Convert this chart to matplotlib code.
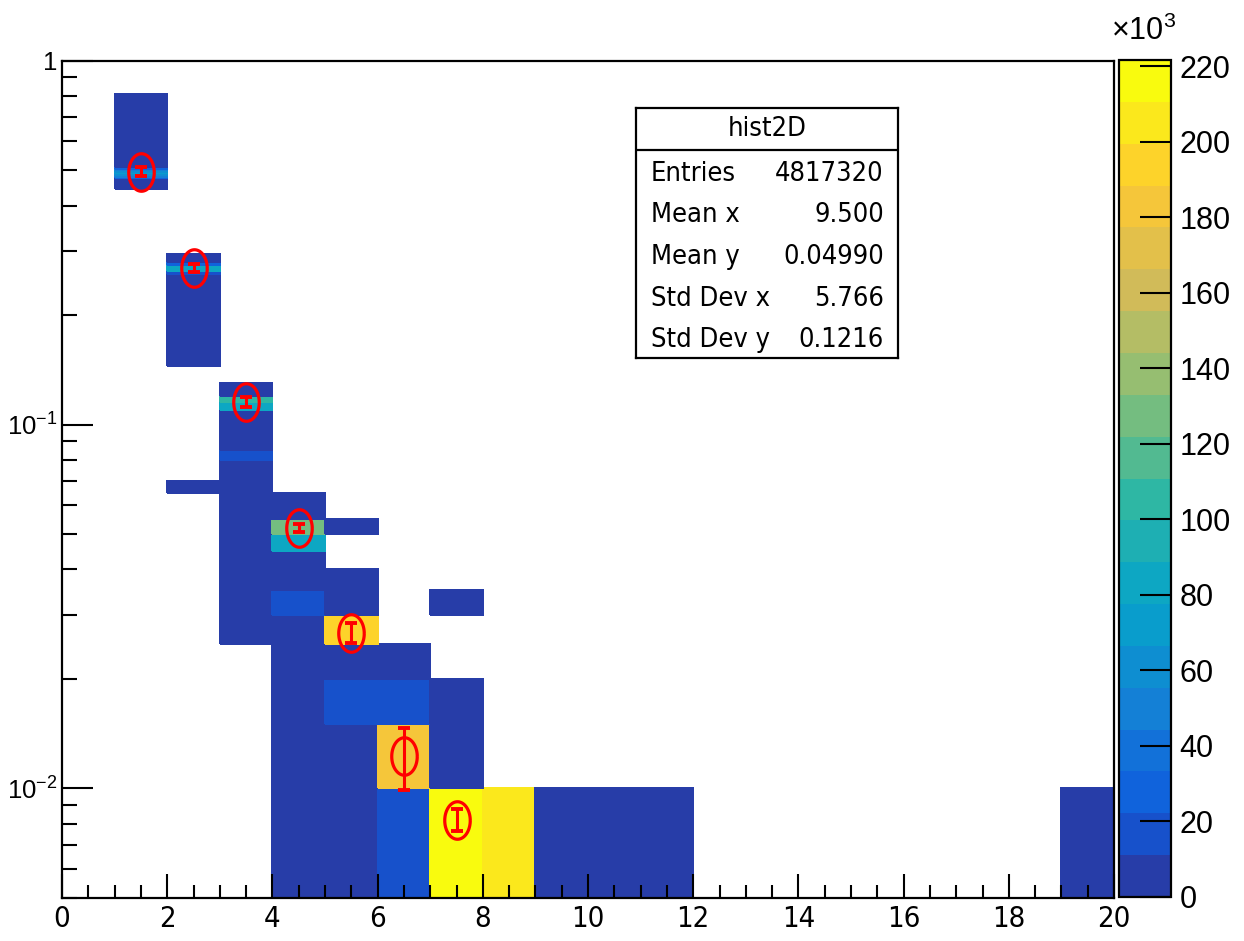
import numpy as np
import matplotlib
matplotlib.use("Agg")
import matplotlib.pyplot as plt
from matplotlib.colors import ListedColormap, BoundaryNorm
from matplotlib.font_manager import FontProperties
from matplotlib.ticker import FixedLocator, FuncFormatter, LogLocator, MultipleLocator, NullFormatter

plt.rcParams['font.family'] = ['Liberation Sans', 'DejaVu Sans']
plt.rcParams['mathtext.default'] = 'regular'
narrow_fam = ['Liberation Sans Narrow', 'DejaVu Sans Condensed', 'DejaVu Sans']

# binning: x in unit bins 0..20, y in 0.005 bins (shown from 0.005 to 1 on log axis)
x_edges = np.arange(0, 21)
y_edges = np.linspace(0.005, 1.0, 200)

# filled regions, content in units of 10^3 (later rows overwrite earlier ones)
blk_x = [1, 2, 2, 3, 4, 5, 5, 6, 7, 7, 9, 10, 11, 19,
         1, 1, 1, 1, 1, 1, 1,
         2, 2, 2, 2,
         3, 3, 3,
         4, 4, 4,
         5, 5, 6, 6, 6,
         7, 8]
blk_ylo = [0.445, 0.145, 0.065, 0.025, 0.005, 0.050, 0.005, 0.005, 0.030, 0.005, 0.005, 0.005, 0.005, 0.005,
           0.475, 0.480, 0.485, 0.490, 0.495, 0.500, 0.505,
           0.260, 0.265, 0.270, 0.275,
           0.080, 0.110, 0.115,
           0.030, 0.045, 0.050,
           0.015, 0.025, 0.005, 0.010, 0.015,
           0.005, 0.005]
blk_yhi = [0.810, 0.295, 0.070, 0.130, 0.065, 0.055, 0.040, 0.025, 0.035, 0.020, 0.010, 0.010, 0.010, 0.010,
           0.480, 0.485, 0.490, 0.495, 0.500, 0.505, 0.510,
           0.265, 0.270, 0.275, 0.280,
           0.085, 0.115, 0.120,
           0.035, 0.050, 0.055,
           0.020, 0.030, 0.010, 0.015, 0.020,
           0.010, 0.010]
blk_val = [4, 4, 4, 4, 4, 4, 4, 4, 4, 4, 4, 4, 4, 4,
           25, 55, 65, 68, 62, 50, 25,
           20, 80, 85, 30,
           18, 85, 105,
           18, 88, 122,
           16, 194, 18, 183, 16,
           221.6, 205]

# profile overlay
prof_x = [1.5, 2.5, 3.5, 4.5, 5.5, 6.5, 7.5]
prof_y = [0.496, 0.269, 0.1154, 0.0519, 0.0268, 0.0123, 0.0082]
prof_err = [0.013, 0.007, 0.0033, 0.0013, 0.00165, 0.0024, 0.00056]

stat_names = ['Entries', 'Mean x', 'Mean y', 'Std Dev x', 'Std Dev y']
stat_vals = ['4817320', '9.500', '0.04990', '5.766', '0.1216']

H = np.zeros((len(y_edges) - 1, len(x_edges) - 1))
for xb, lo, hi, v in zip(blk_x, blk_ylo, blk_yhi, blk_val):
    j0 = int(round(lo / 0.005)) - 1
    j1 = int(round(hi / 0.005)) - 1
    H[j0:j1, xb] = v
H = np.ma.masked_equal(H, 0)

# ROOT kBird palette, 20 contour levels
stops = [0.0, 0.125, 0.25, 0.375, 0.5, 0.625, 0.75, 0.875, 1.0]
red = [0.2082, 0.0592, 0.0780, 0.0232, 0.1802, 0.5301, 0.8186, 0.9956, 0.9764]
green = [0.1664, 0.3599, 0.5041, 0.6419, 0.7178, 0.7492, 0.7328, 0.7862, 0.9832]
blue = [0.5293, 0.8684, 0.8385, 0.7914, 0.6425, 0.4662, 0.3499, 0.1968, 0.0539]
t = np.linspace(0, 1, 255)
pal = np.column_stack([np.interp(t, stops, red), np.interp(t, stops, green), np.interp(t, stops, blue)])
ndiv = 20
idx = [min(int((i + 0.99) * 255 / ndiv), 254) for i in range(ndiv)]
cmap = ListedColormap(pal[idx])
zmax = H.max()
norm = BoundaryNorm(np.linspace(0, zmax, ndiv + 1), ndiv)

fig = plt.figure(figsize=(12.44, 9.41), dpi=100)
W, Hpx = 1244.0, 941.0
ax = fig.add_axes([62 / W, 1 - 898 / Hpx, (1114 - 62) / W, (898 - 60.7) / Hpx])

mesh = ax.pcolormesh(x_edges, y_edges, H, cmap=cmap, norm=norm, edgecolors='face', linewidth=0.3)

ax.set_yscale('log')
ax.set_xlim(0, 20)
ax.set_ylim(0.005, 1)

# ellipse shaped open marker
th = np.linspace(0, 2 * np.pi, 80)
ell = np.column_stack([0.34 * np.cos(th), 0.5 * np.sin(th)])
ax.errorbar(prof_x, prof_y, yerr=prof_err, fmt='none', ecolor='red', elinewidth=2.2, capsize=4.5, capthick=2.8, zorder=3)
ax.plot(prof_x, prof_y, ls='none', marker=ell, ms=27, mfc='none', mec='red', mew=2.3, zorder=4)

# axes style, ROOT-like inward ticks on left/bottom only
for s in ax.spines.values():
    s.set_linewidth(1.6)
ax.xaxis.set_major_locator(MultipleLocator(2))
ax.xaxis.set_minor_locator(MultipleLocator(0.5))
ax.yaxis.set_major_locator(FixedLocator([0.01, 0.1, 1]))
ax.yaxis.set_minor_locator(LogLocator(base=10, subs=np.arange(2, 10)))
ax.yaxis.set_minor_formatter(NullFormatter())
ylab = {1: '1', 0.1: r'$\mathdefault{10^{-1}}$', 0.01: r'$\mathdefault{10^{-2}}$'}
ax.yaxis.set_major_formatter(FuncFormatter(lambda v, p: ylab.get(round(v, 3), '')))
ax.tick_params(axis='x', which='major', direction='in', length=17.5, width=1.5, pad=5)
ax.tick_params(axis='x', which='minor', direction='in', length=9.5, width=1.5)
ax.tick_params(axis='y', which='major', direction='in', length=22, width=1.5, pad=3, labelsize=18.5)
ax.tick_params(axis='y', which='minor', direction='in', length=11, width=1.5)
xfont = FontProperties(family=narrow_fam, stretch='condensed', size=21)
for lab in ax.get_xticklabels():
    lab.set_fontproperties(xfont)

# color palette axis
cax = fig.add_axes([1119 / W, 1 - 897 / Hpx, (1171 - 1119) / W, (897 - 60) / Hpx])
cb = fig.colorbar(mesh, cax=cax, ticks=np.arange(0, 221, 20), spacing='proportional')
cb.outline.set_linewidth(1.6)
cax.minorticks_off()
cax.tick_params(direction='in', length=22, width=1.5, labelsize=22, pad=6)
fig.text(1111 / W, 1 - 40 / Hpx, r'$\times\mathdefault{10^{3}}$', fontsize=22)

# stats box
sax = fig.add_axes([636 / W, 1 - 358 / Hpx, (898 - 636) / W, (358 - 108) / Hpx])
sax.set_xticks([])
sax.set_yticks([])
sax.set_xlim(0, 1)
sax.set_ylim(0, 1)
for s in sax.spines.values():
    s.set_linewidth(1.6)
sax.axhline(1 - 42 / 250, color='black', lw=1.6)
sfont = FontProperties(family=narrow_fam, stretch='condensed', size=19.5)
sax.text(0.5, 1 - 21 / 250, 'hist2D', ha='center', va='center', fontproperties=sfont)
row_h = (1 - 42 / 250) / len(stat_names)
for i, (nm, vl) in enumerate(zip(stat_names, stat_vals)):
    yb = 1 - 42 / 250 - row_h * i - row_h * 0.74
    sax.text(0.057, yb, nm, ha='left', va='baseline', fontproperties=sfont)
    sax.text(0.946, yb, vl, ha='right', va='baseline', fontproperties=sfont)

fig.savefig('out.png', dpi=100)
